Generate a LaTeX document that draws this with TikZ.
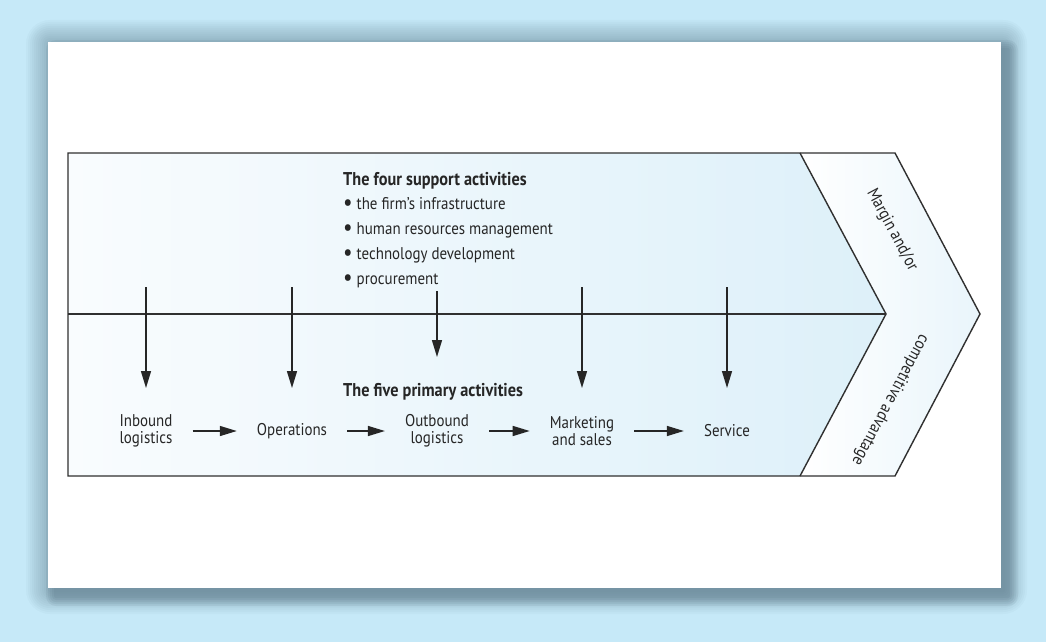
\documentclass[tikz,border=0pt]{standalone}
\usepackage{fontspec}
\setmainfont{PT Sans}[FakeStretch=0.88]
\usetikzlibrary{arrows.meta}
\definecolor{bgblue}{HTML}{C6E9F8}
\definecolor{shadowblue}{HTML}{4F6B7C}
\definecolor{bodyleft}{HTML}{F9FCFE}
\definecolor{bodyright}{HTML}{DDF0F9}
\definecolor{bandfill}{HTML}{E9F5FB}
\definecolor{inkgray}{HTML}{262626}
\definecolor{linegray}{HTML}{303030}
\newcommand{\bigdot}{{\fontsize{24}{24}\selectfont\raisebox{-1.6pt}{\textbullet}}}
\begin{document}
\begin{tikzpicture}[x=1pt,y=-1pt,>={Triangle[length=17pt,width=10pt]}]
  \tikzstyle{every node}=[text=inkgray,font=\fontsize{17}{21}\selectfont]
  \tikzstyle{heading}=[anchor=base west,inner sep=0pt,font=\bfseries\fontsize{18.5}{22}\selectfont]
  \tikzstyle{primary}=[align=center,inner xsep=20pt,inner ysep=2pt,font=\fontsize{17}{17}\selectfont]
  \tikzstyle{outline}=[draw=linegray,line width=1.4pt]
  \tikzstyle{flow}=[->,draw=inkgray,line width=1.4pt]
  \useasboundingbox (0,0) rectangle (1046,642);
  \fill [bgblue] (0,0) rectangle (1046,642);
  \foreach \i in {1,...,12}
    \fill [shadowblue,opacity=0.04,rounded corners=2*\i] (50-2*\i,44-2*\i) rectangle (1003+2*\i,590+2*\i);
  \foreach \i in {1,...,5}
    \fill [shadowblue,opacity=0.1,rounded corners=2*\i] (56-2*\i,50-2*\i) rectangle (1008+2*\i,596+2*\i);
  \fill [white] (48,42) rectangle (1001,588);
  \shade [left color=bodyleft,right color=bodyright] (68,153) -- (800,153) -- (886,314) -- (800,476) -- (68,476) -- cycle;
  \shade [left color=white,right color=bandfill] (800,153) -- (895,153) -- (980,314) -- (895,476) -- (800,476) -- (886,314) -- cycle;
  \draw [outline] (68,153) -- (895,153) -- (980,314) -- (895,476) -- (68,476) -- cycle;
  \draw [outline] (800,153) -- (886,314) -- (800,476);
  \draw [outline] (68,314) -- (886,314);
  \node [heading] (supporthead) at (343,185) {The four support activities};
  \foreach \item [count=\k] in {the firm's infrastructure,human resources management,technology development,procurement}
    \node [anchor=base west,inner sep=0pt] (support\k) at (343,184+25*\k) {\bigdot\ \item};
  \node [heading] (primaryhead) at (343,396) {The five primary activities};
  \node [primary] (inbound) at (146,431) {Inbound\\logistics};
  \node [primary] (operations) at (292,431) {Operations};
  \node [primary] (outbound) at (437,431) {Outbound\\logistics};
  \node [primary] (marketing) at (582,431) {Marketing\\and sales};
  \node [primary] (service) at (727,431) {Service};
  \node [rotate=-61.9] (margin) at (892,230) {Margin and/or};
  \node [rotate=-118.1] (advantage) at (890,400) {competitive advantage};
  \coordinate (from1) at (146,287); \coordinate (to1) at (146,388);
  \coordinate (from2) at (292,287); \coordinate (to2) at (292,388);
  \coordinate (from3) at (437,291); \coordinate (to3) at (437,357);
  \coordinate (from4) at (582,287); \coordinate (to4) at (582,388);
  \coordinate (from5) at (727,287); \coordinate (to5) at (727,388);
  \foreach \k in {1,...,5}
    \draw [flow] (from\k) -- (to\k);
  \draw [flow] (inbound) -- (operations);
  \draw [flow] (operations) -- (outbound);
  \draw [flow] (outbound) -- (marketing);
  \draw [flow] (marketing) -- (service);
\end{tikzpicture}
\end{document}
